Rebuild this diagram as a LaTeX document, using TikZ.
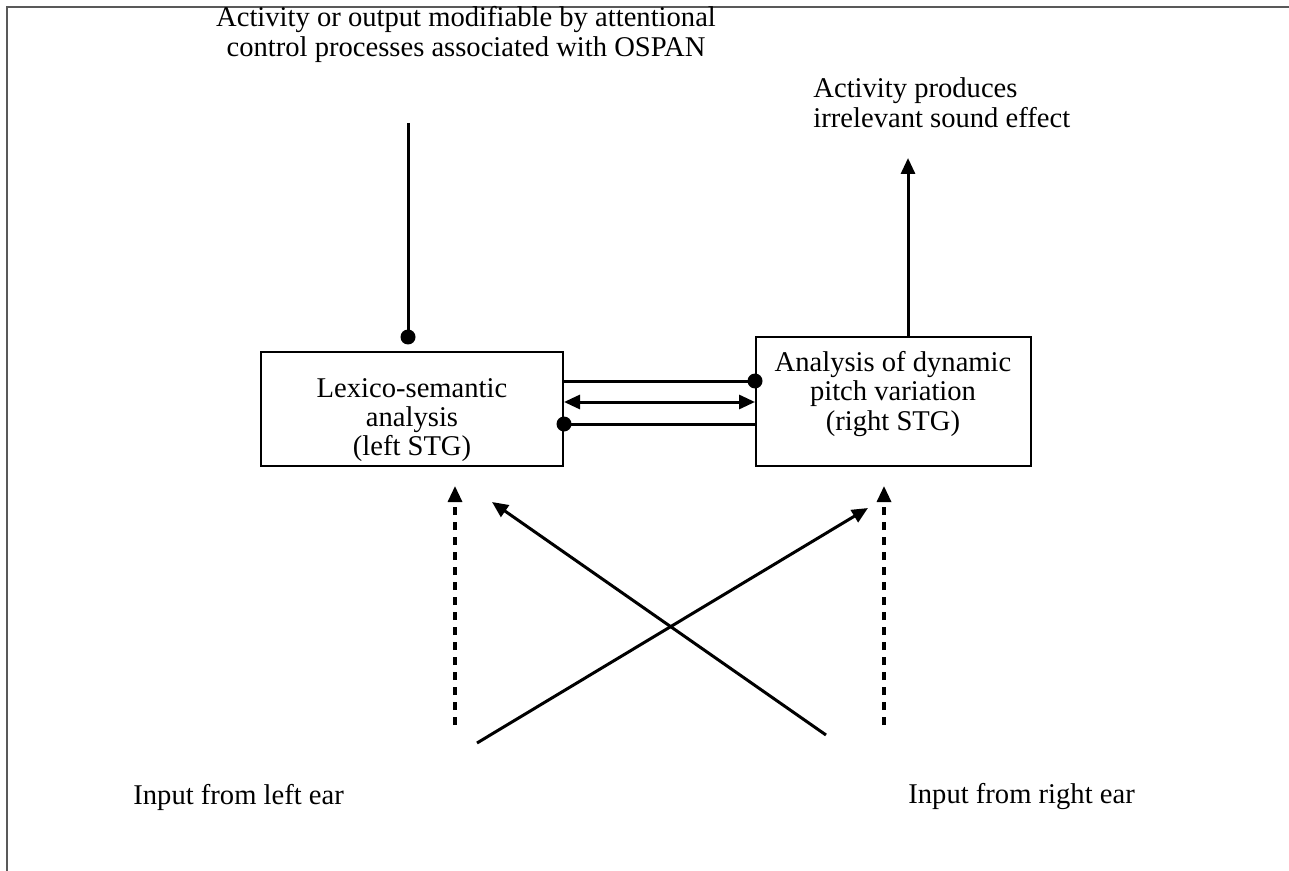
\documentclass[tikz,border=0pt]{standalone}
\usepackage{fontspec}
\setmainfont{Liberation Serif}
\usetikzlibrary{arrows.meta}

\begin{document}
\begin{tikzpicture}[x=0.5pt,y=0.5pt,yscale=-1,xscale=1,
  txt/.style={inner sep=0pt,font=\fontsize{14.3}{15}\selectfont},
  box/.style={draw,line width=1pt,inner sep=0pt,minimum width=151pt},
  boxtxt/.style={inner sep=0pt,align=center,font=\fontsize{14.3}{14.6}\selectfont},
  dot/.style={circle,fill=black,inner sep=0pt,minimum size=7.5pt},
  link/.style={line width=1.5pt},
  arr/.style={line width=1.5pt,-{Triangle[length=8pt,width=7pt]}},
  dasharr/.style={arr,line width=1.6pt,dash pattern={on 4pt off 3.5pt}}]
\useasboundingbox (0,0) rectangle (1289,871);
%frame
\draw [line width=1pt,gray!70!black] (7,871) -- (7,7) -- (1289,7);

% Box Nodes
\node [box,minimum height=57pt] (lex) at (412,409) {};
\node [box,minimum width=137.5pt,minimum height=64.5pt] (pitch) at (893.5,401.5) {};
\node [boxtxt] (lextxt) at (412,420) {Lexico-semantic\\analysis\\(left STG)};
\node [boxtxt] (pitchtxt) at (893,394) {Analysis of dynamic\\pitch variation\\(right STG)};

% Text Node
\node [txt,align=center] (ospan) at (466,34) {Activity or output modifiable by attentional\\control processes associated with OSPAN};
% Text Node
\node [txt,align=left,anchor=west] (sound) at (813,103) {Activity produces\\irrelevant sound effect};
% Text Node
\node [txt,anchor=west] (leftear) at (133,797) {Input from left ear};
% Text Node
\node [txt,anchor=west] (rightear) at (908,797) {Input from right ear};

% Points
\coordinate (otop) at (408,123);
\coordinate (stop) at (908,158);
\node [dot] (ospandot) at (408,337) {};
\node [dot] (pdot) at (pitch.west |- 0,381) {};
\node [dot] (ldot) at (lex.east |- 0,424) {};
\coordinate (lstart) at (455,725);
\coordinate (lend) at (455,486);
\coordinate (rstart) at (884,725);
\coordinate (rend) at (884,486);
\coordinate (xa) at (477,743);
\coordinate (xb) at (868,508);
\coordinate (ya) at (826,735);
\coordinate (yb) at (492,502);

%Straight Lines
\draw [link] (otop) -- (ospandot.center);
\draw [arr] (pitch.north -| stop) -- (stop);
\draw [link] (lex.east |- pdot) -- (pdot.center);
\draw [link] (ldot.center) -- (pitch.west |- ldot);
\draw [line width=1.5pt,{Triangle[length=8pt,width=7pt]}-{Triangle[length=8pt,width=7pt]}] (lex.east |- 0,402) -- (pitch.west |- 0,402);
%Dashed Arrows
\draw [dasharr] (lstart) -- (lend);
\draw [dasharr] (rstart) -- (rend);
%Cross Arrows
\draw [arr] (xa) -- (xb);
\draw [arr] (ya) -- (yb);
\end{tikzpicture}
\end{document}
